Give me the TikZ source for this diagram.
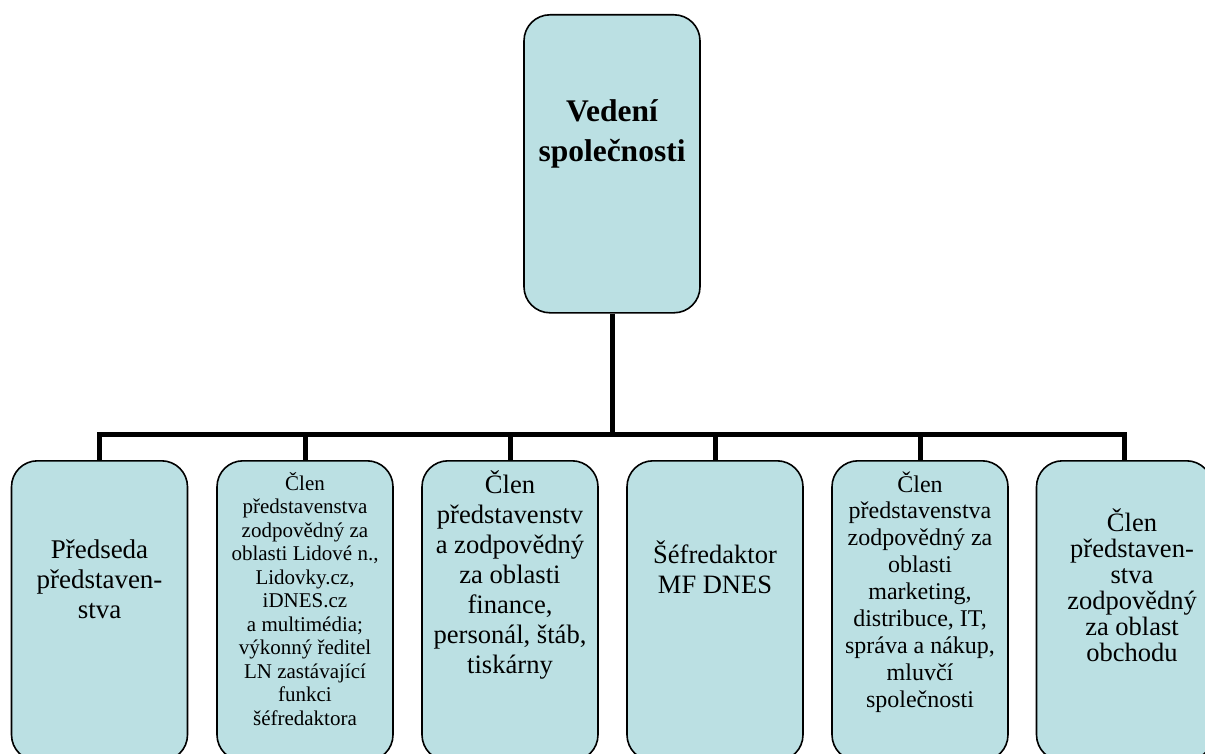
\documentclass[tikz,border=0pt]{standalone}
\usepackage{fontspec}
\setmainfont{Liberation Serif}
\definecolor{boxfill}{RGB}{187,224,227}
% centred stack of lines whose reference point is the first baseline
\newcommand{\txtstack}[1]{\begin{tabular}[t]{@{}c@{}}#1\end{tabular}}
\begin{document}
\begin{tikzpicture}[x=1pt,y=-1pt,
  orgbox/.style={draw=black, line width=1.6pt, fill=boxfill, rounded corners=26pt,
                 minimum width=176pt, inner sep=0pt, anchor=north},
  boxtext/.style={anchor=base, inner sep=0pt},
  link/.style={draw=black, line width=5pt}]
\useasboundingbox (0,0) rectangle (1205,754);
\clip (0,0) rectangle (1205,754);

% boxes
\node[orgbox, minimum height=298pt] (top) at (612,14) {};
\node[orgbox, minimum height=300pt] (b1) at (99.5,460) {};
\node[orgbox, minimum height=300pt] (b2) at (305,460) {};
\node[orgbox, minimum height=300pt] (b3) at (510,460) {};
\node[orgbox, minimum height=300pt] (b4) at (715,460) {};
\node[orgbox, minimum height=300pt] (b5) at (920,460) {};
\node[orgbox, minimum height=300pt] (b6) at (1124.5,460) {};

% connectors
\coordinate (hub) at (612,434);
\draw[link] (top.south) -- (hub);
\foreach \b in {b1,b2,b3,b4,b5,b6}
  \draw[link] (hub) -| (\b.north);

% texts
\node[boxtext, font=\fontsize{31.5}{40}\selectfont\bfseries] (ttop) at (612,122)
  {\txtstack{Vedení\\ společnosti}};
\node[boxtext, font=\fontsize{27}{30}\selectfont] (t1) at (99.5,558)
  {\txtstack{Předseda\\ představen-\\ stva}};
\node[boxtext, font=\fontsize{21}{23.5}\selectfont] (t2) at (305,490)
  {\txtstack{Člen\\ představenstva\\ zodpovědný za\\ oblasti Lidové n.,\\ Lidovky.cz,\\ iDNES.cz\\ a multimédia;\\ výkonný ředitel\\ LN zastávající\\ funkci\\ šéfredaktora}};
\node[boxtext, font=\fontsize{26.6}{30}\selectfont] (t3) at (510,493)
  {\txtstack{Člen\\ představenstv\\ a zodpovědný\\ za oblasti\\ finance,\\ personál, štáb,\\ tiskárny}};
\node[boxtext, font=\fontsize{26.5}{30}\selectfont] (t4) at (715,563)
  {\txtstack{Šéfredaktor\\ MF DNES}};
\node[boxtext, font=\fontsize{24}{26.9}\selectfont] (t5) at (920,492)
  {\txtstack{Člen\\ představenstva\\ zodpovědný za\\ oblasti\\ marketing,\\ distribuce, IT,\\ správa a nákup,\\ mluvčí\\ společnosti}};
\node[boxtext, font=\fontsize{26.5}{26}\selectfont] (t6) at (1132,531)
  {\txtstack{Člen\\ představen-\\ stva\\ zodpovědný\\ za oblast\\ obchodu}};
\end{tikzpicture}
\end{document}
